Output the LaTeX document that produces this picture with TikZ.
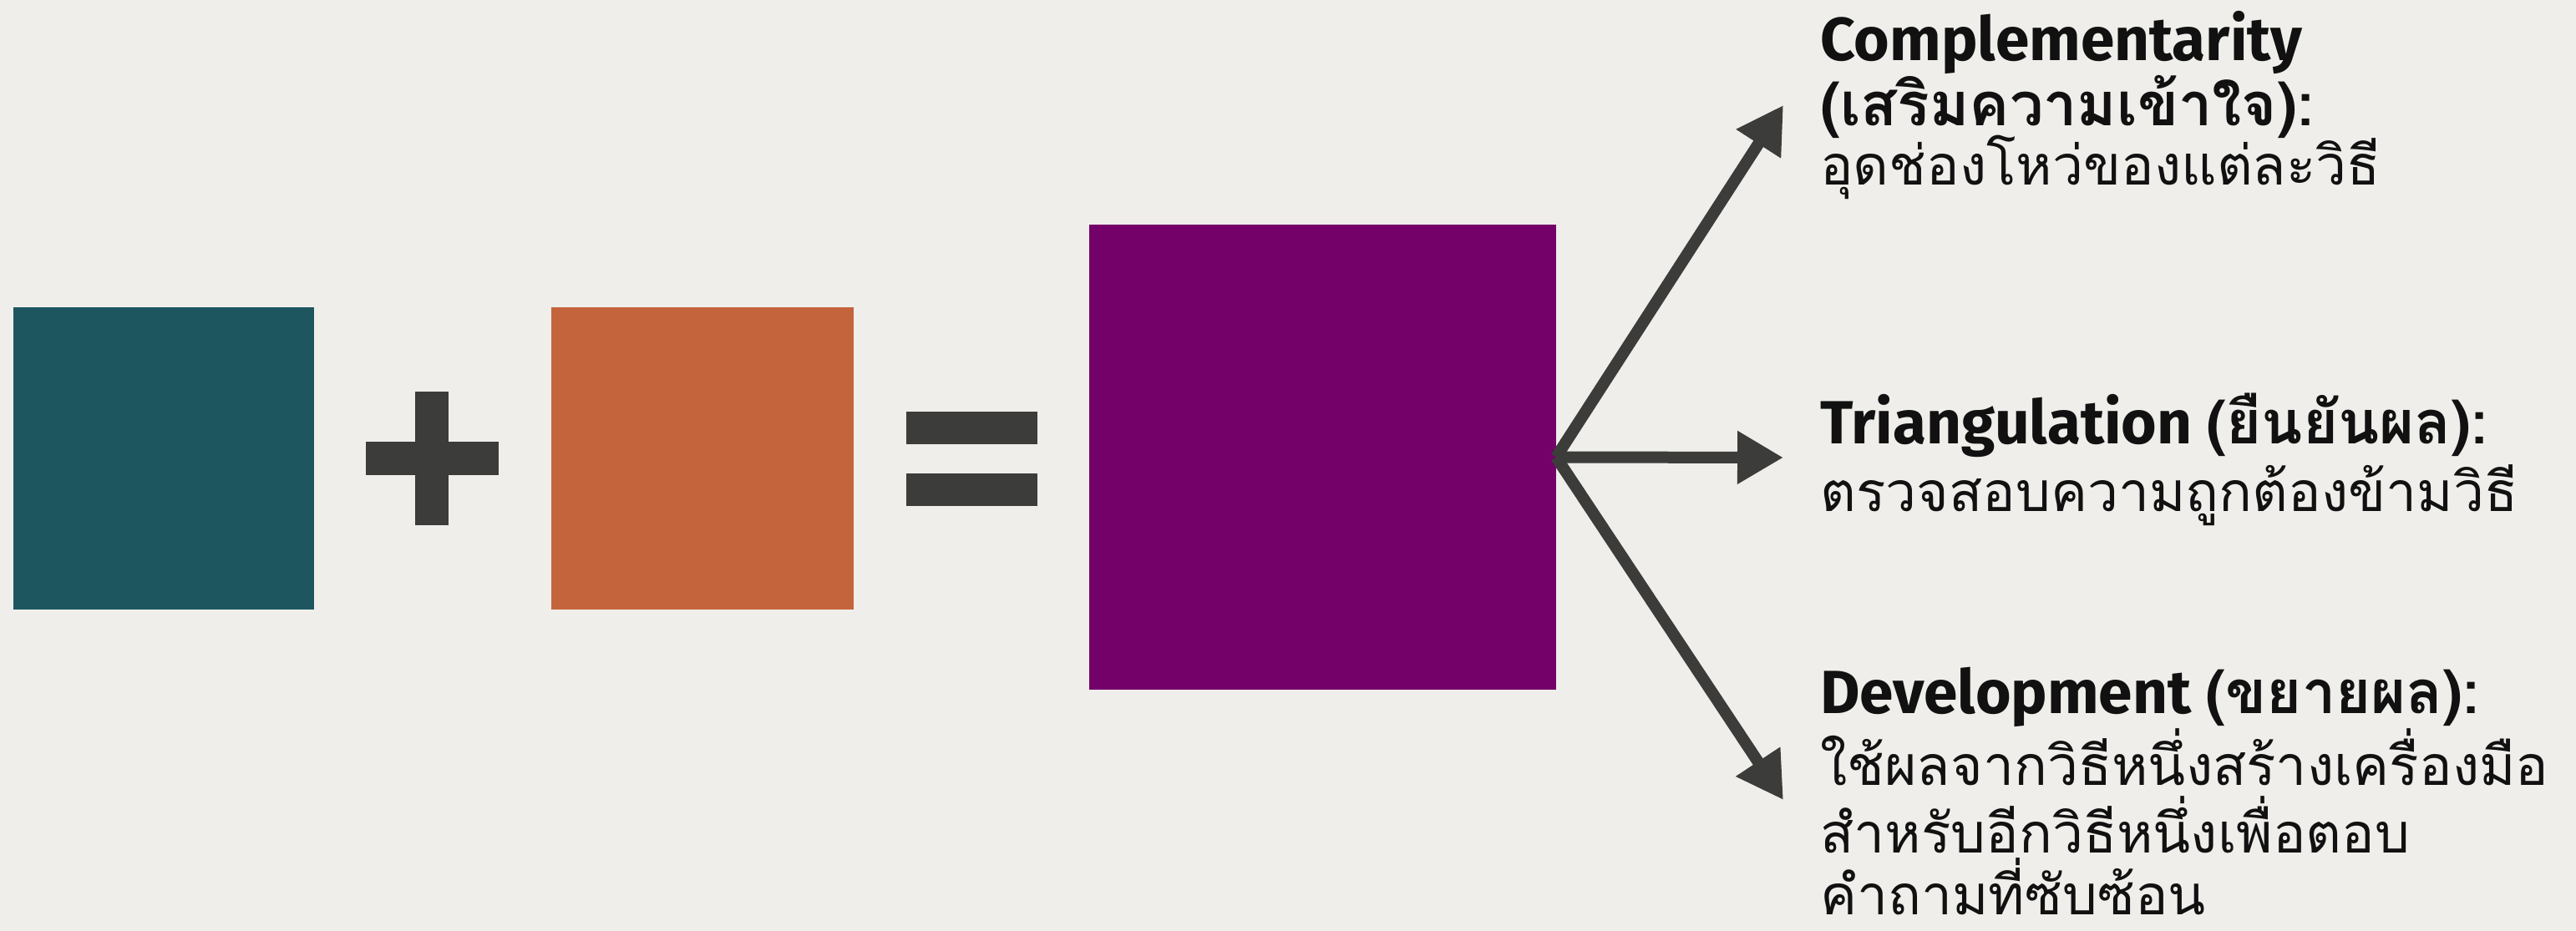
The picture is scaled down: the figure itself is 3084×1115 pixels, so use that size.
\documentclass[tikz,border=0pt]{standalone}
\usepackage{fontspec}
\setmainfont{Fira Sans}
\newfontfamily\thaifont[Script=Thai]{Loma}
\usetikzlibrary{arrows.meta}
\definecolor{bgc}{HTML}{EFEEEA}
\definecolor{tealc}{HTML}{1E5660}
\definecolor{orangec}{HTML}{C4643C}
\definecolor{purplec}{HTML}{74006A}
\definecolor{darkc}{HTML}{3C3C3A}
\definecolor{textc}{HTML}{111111}
\begin{document}
\begin{tikzpicture}[x=1pt,y=-1pt,
  box/.style={rectangle, inner sep=0pt, outer sep=0pt, draw=none},
  conn/.style={draw=darkc, line width=14pt, -{Triangle[length=55pt,width=60pt]}},
  ttl/.style={anchor=base west, inner sep=0pt, font=\fontsize{73}{80}\selectfont\bfseries, text=textc},
  thb/.style={font=\thaifont\fontsize{72}{80}\selectfont\bfseries},
  body/.style={anchor=base west, inner sep=0pt, font=\thaifont\fontsize{66}{80}\selectfont, text=textc}]
\fill[bgc] (0,0) rectangle (3084,1115);
\useasboundingbox (0,0) rectangle (3084,1115);

\node[box, fill=tealc, minimum width=360pt, minimum height=362pt] (teal) at (196,549) {};
\node[box, fill=orangec, minimum width=362pt, minimum height=362pt] (orange) at (841,549) {};
\node[box, fill=purplec, minimum width=559pt, minimum height=557pt] (purple) at (1583.5,547.5) {};

% plus
\fill[darkc] (497,469) rectangle (537,629);
\fill[darkc] (438,529) rectangle (597,569);
% equals
\fill[darkc] (1085,493) rectangle (1242,532);
\fill[darkc] (1085,567) rectangle (1242,606);

\coordinate (tip1) at (2135,126);
\coordinate (tip2) at (2135,548);
\coordinate (tip3) at (2135,958);
\draw[conn] (purple.east) -- (tip1);
\draw[conn] (purple.east) -- (tip2);
\draw[conn] (purple.east) -- (tip3);

\node[ttl] (c1) at (2179,73) {Complementarity};
\node[ttl, thb] (c2) at (2179,151) {(เสริมความเข้าใจ):};
\node[body] (c3) at (2179,222) {อุดช่องโหว่ของแต่ละวิธี};

\node[ttl] (t1) at (2179,531) {Triangulation {\thaifont\fontsize{72}{80}\selectfont\bfseries (ยืนยันผล):}};
\node[body] (t2) at (2179,612) {ตรวจสอบความถูกต้องข้ามวิธี};

\node[ttl] (d1) at (2179,854) {Development {\thaifont\fontsize{72}{80}\selectfont\bfseries (ขยายผล):}};
\node[body] (d2) at (2179,940) {ใช้ผลจากวิธีหนึ่งสร้างเครื่องมือ};
\node[body] (d3) at (2179,1021) {สำหรับอีกวิธีหนึ่งเพื่อตอบ};
\node[body, text depth=0pt] (d4) at (2179,1095) {คำถามที่ซับซ้อน};
\end{tikzpicture}
\end{document}
